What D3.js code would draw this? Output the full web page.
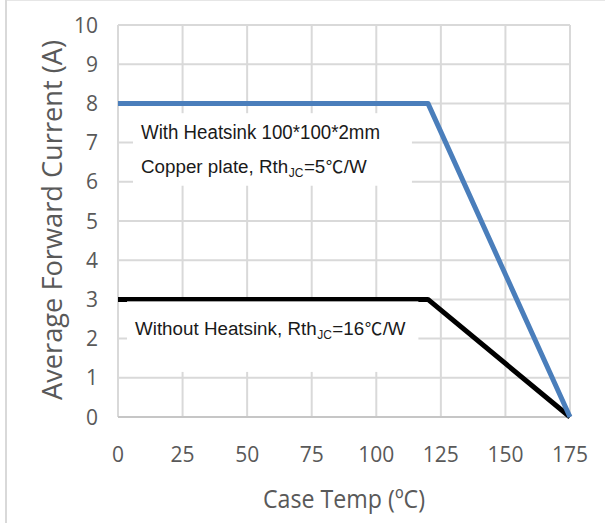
<!DOCTYPE html>
<html>
<head>
  <meta charset="utf-8">
  <script src="https://d3js.org/d3.v7.min.js"></script>
  <style>
    body { margin: 0; background: #fff; }
  </style>
</head>
<body>
<svg id="chart" width="605" height="523"></svg>

<script>
  // data
  var caseTemp = [0, 120, 175];
  var withHeatsink = [8, 8, 0];
  var withoutHeatsink = [3, 3, 0];
  var xTicks = [0, 25, 50, 75, 100, 125, 150, 175];
  var yTicks = [0, 1, 2, 3, 4, 5, 6, 7, 8, 9, 10];

  var svg = d3.select("#chart");

  var x = d3.scaleLinear().domain([0, 175]).range([118, 570]);
  var y = d3.scaleLinear().domain([0, 10]).range([417, 25]);

  // outer frame (left + top edge of the original chart area)
  svg.append("rect")
    .attr("x", 6).attr("y", 0.5)
    .attr("width", 640).attr("height", 560)
    .attr("fill", "none")
    .attr("stroke", "#e6e6e6")
    .attr("stroke-width", 1);
  svg.append("line")
    .attr("x1", 6).attr("x2", 6).attr("y1", 0).attr("y2", 523)
    .attr("stroke", "#d9d9d9").attr("stroke-width", 2);

  // gridlines
  var grid = svg.append("g").attr("stroke", "#d9d9d9").attr("stroke-width", 2);
  grid.selectAll("line.h")
    .data(yTicks)
    .enter().append("line")
      .attr("class", "h")
      .attr("x1", x(0)).attr("x2", x(175))
      .attr("y1", function(d) { return y(d); })
      .attr("y2", function(d) { return y(d); });
  grid.selectAll("line.v")
    .data(xTicks)
    .enter().append("line")
      .attr("class", "v")
      .attr("y1", y(0)).attr("y2", y(10))
      .attr("x1", function(d) { return x(d); })
      .attr("x2", function(d) { return x(d); });
  // x axis line
  svg.append("line")
    .attr("x1", x(0)).attr("x2", x(175))
    .attr("y1", y(0)).attr("y2", y(0))
    .attr("stroke", "#c6c6c6").attr("stroke-width", 2);

  // tick labels
  svg.append("g")
    .attr("font-family", "'Open Sans', sans-serif")
    .attr("font-size", 21)
    .attr("fill", "#595959")
    .attr("text-anchor", "end")
  .selectAll("text")
  .data(yTicks)
  .enter().append("text")
    .attr("x", 98)
    .attr("y", function(d) { return y(d) + 7.5; })
    .text(function(d) { return d; });

  svg.append("g")
    .attr("font-family", "'Open Sans', sans-serif")
    .attr("font-size", 21)
    .attr("fill", "#595959")
    .attr("text-anchor", "middle")
  .selectAll("text")
  .data(xTicks)
  .enter().append("text")
    .attr("x", function(d) { return x(d); })
    .attr("y", 462)
    .text(function(d) { return d; });

  // axis titles
  svg.append("text")
    .attr("transform", "translate(62,220) rotate(-90)")
    .attr("text-anchor", "middle")
    .attr("font-family", "'Open Sans', sans-serif")
    .attr("font-size", 27)
    .attr("fill", "#595959")
    .attr("textLength", 360)
    .attr("lengthAdjust", "spacingAndGlyphs")
    .text("Average Forward Current (A)");

  svg.append("text")
    .attr("x", 344).attr("y", 508)
    .attr("text-anchor", "middle")
    .attr("font-family", "'Open Sans', sans-serif")
    .attr("font-size", 26)
    .attr("fill", "#595959")
    .attr("textLength", 162)
    .attr("lengthAdjust", "spacingAndGlyphs")
    .text("Case Temp (ºC)");

  // curves
  var line = d3.line()
    .x(function(d) { return x(d[0]); })
    .y(function(d) { return y(d[1]); });

  svg.append("path")
    .datum(d3.zip(caseTemp, withoutHeatsink))
    .attr("d", line)
    .attr("fill", "none")
    .attr("stroke", "#000")
    .attr("stroke-width", 5)
    .attr("stroke-linejoin", "round");

  svg.append("path")
    .datum(d3.zip(caseTemp, withHeatsink))
    .attr("d", line)
    .attr("fill", "none")
    .attr("stroke", "#4a7ebb")
    .attr("stroke-width", 5)
    .attr("stroke-linejoin", "round");

  // annotation boxes (data units)
  function labelBox(x0, x1, y0, y1) {
    svg.append("rect")
      .attr("x", x(x0)).attr("y", y(y0))
      .attr("width", x(x1) - x(x0))
      .attr("height", y(y1) - y(y0))
      .attr("fill", "#fff");
  }
  // text pieces laid out one after another, so the subscript is its own text
  function rthLabel(px, py, lead, value) {
    var parts = [
      { s: lead + "Rth", size: 18.8, dy: 0 },
      { s: "JC", size: 12, dy: 4 },
      { s: "=" + value, size: 18.8, dy: 0 },
      { s: "℃", size: 17.5, dy: 0, cjk: true },
      { s: "/W", size: 18.8, dy: 0 }
    ];
    var cx = px;
    parts.forEach(function(p) {
      var t = svg.append("text")
        .attr("x", cx).attr("y", py + p.dy)
        .attr("font-family", p.cjk ? "'Noto Sans CJK SC', 'DejaVu Sans', sans-serif"
                                   : "'Liberation Sans', Arial, sans-serif")
        .attr("font-size", p.size)
        .attr("fill", "#1a1a1a")
        .text(p.s);
      cx += t.node().getComputedTextLength() + 0.5;
    });
  }

  labelBox(5.8, 113.8, 7.75, 5.9);
  svg.append("text")
    .attr("x", 141).attr("y", 139)
    .attr("font-family", "'Liberation Sans', Arial, sans-serif")
    .attr("font-size", 20)
    .attr("fill", "#1a1a1a")
    .attr("textLength", 239)
    .attr("lengthAdjust", "spacingAndGlyphs")
    .text("With Heatsink 100*100*2mm");
  rthLabel(141, 173, "Copper plate, ", "5");

  labelBox(3.5, 116.3, 2.95, 1.15);
  rthLabel(135, 335, "Without Heatsink, ", "16");
</script>
</body>
</html>
